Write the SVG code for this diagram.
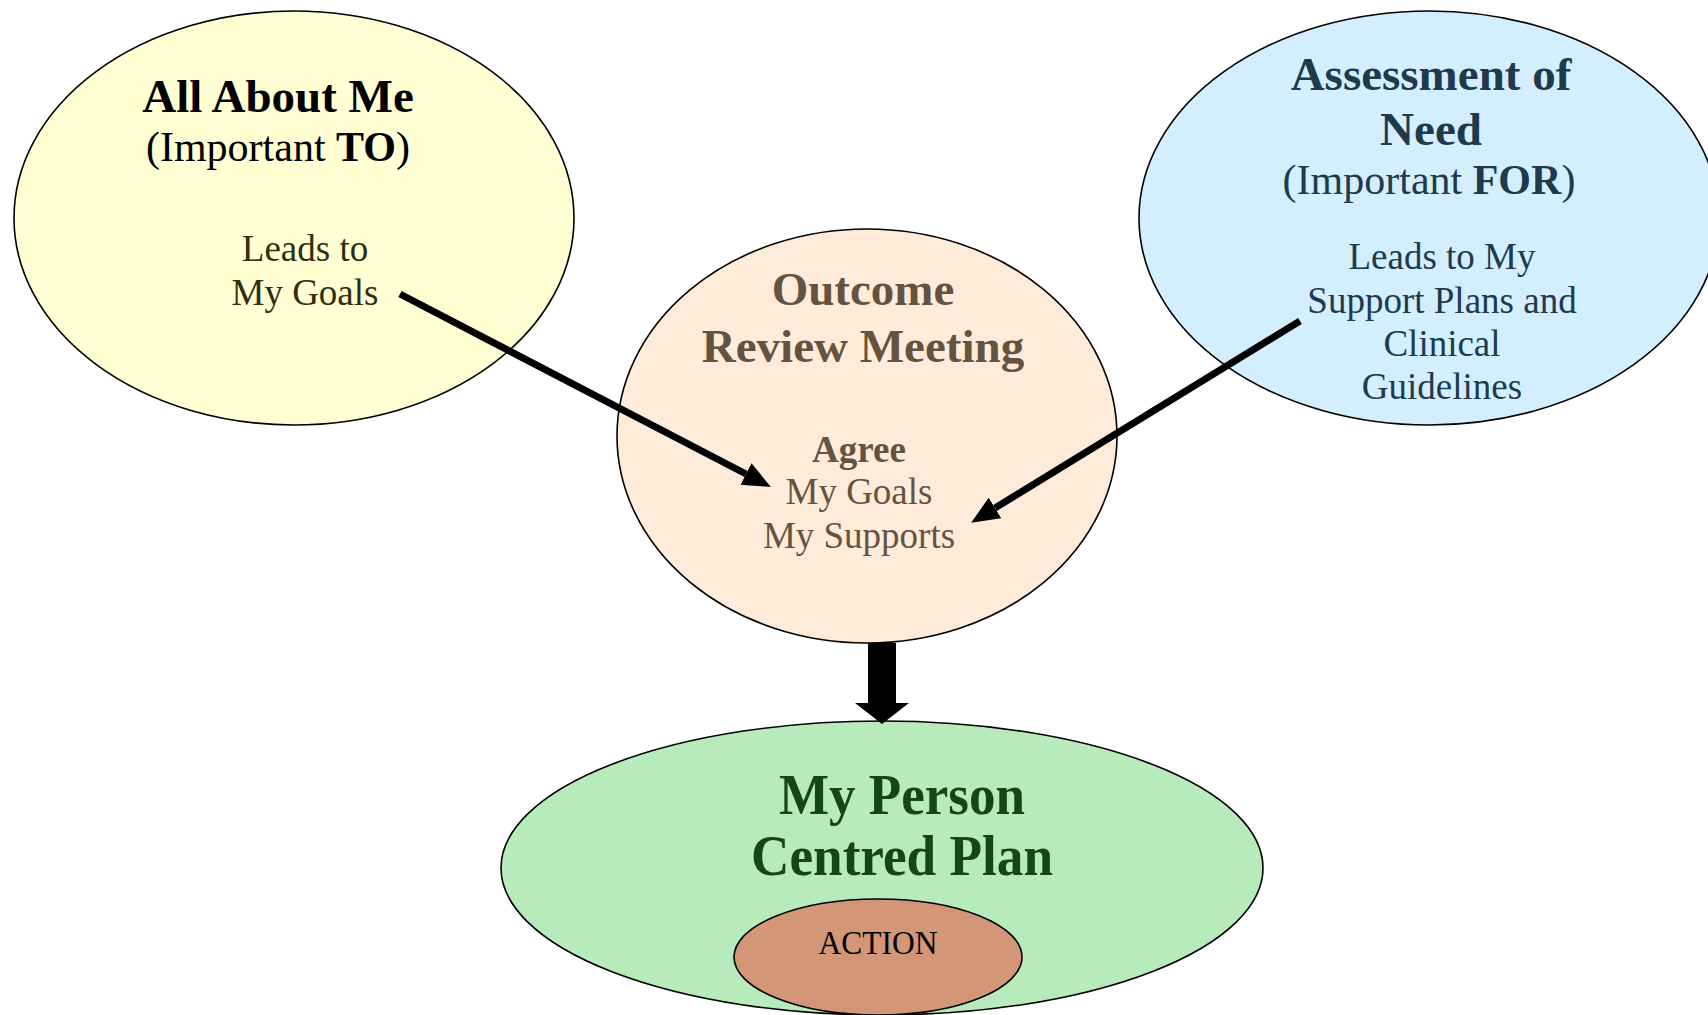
<svg xmlns="http://www.w3.org/2000/svg" width="1708" height="1015" viewBox="0 0 1708 1015">
<style>
text{font-family:"Liberation Serif","Times New Roman",serif;text-anchor:middle}
.t{font-size:47px;font-weight:bold}
.s{font-size:42px}
.b{font-size:37px}
.e{stroke:#000;stroke-width:1.6}
</style>
<defs>
<marker id="ah" markerUnits="userSpaceOnUse" markerWidth="30" markerHeight="26" refX="0" refY="12" orient="auto">
<path d="M0,0 L28,12 L0,24 z" fill="#000"/>
</marker>
</defs>
<rect width="1708" height="1015" fill="#fff"/>
<g id="all-about-me">
<ellipse class="e" cx="294" cy="218" rx="280" ry="207" fill="#ffffd3"/>
<text class="t" x="278" y="112" fill="#000">All About Me</text>
<text class="s" x="278" y="161" fill="#000">(Important <tspan font-weight="bold">TO</tspan>)</text>
<text class="b" x="305" y="261" fill="#2e2e10">Leads to</text>
<text class="b" x="305" y="305" fill="#2e2e10">My Goals</text>
</g>
<g id="assessment">
<ellipse class="e" cx="1429" cy="218" rx="290" ry="207" fill="#d3eeff"/>
<text class="t" x="1431" y="90" fill="#203a4c">Assessment of</text>
<text class="t" x="1431" y="145" fill="#203a4c">Need</text>
<text class="s" x="1429" y="194" fill="#203a4c">(Important <tspan font-weight="bold">FOR</tspan>)</text>
<text class="b" x="1442" y="269" fill="#203a4c">Leads to My</text>
<text class="b" x="1442" y="313" fill="#203a4c">Support Plans and</text>
<text class="b" x="1442" y="356" fill="#203a4c">Clinical</text>
<text class="b" x="1442" y="399" fill="#203a4c">Guidelines</text>
</g>
<g id="outcome-review">
<ellipse class="e" cx="867" cy="436" rx="250" ry="207" fill="#ffebd9"/>
<text class="t" x="863" y="305" fill="#655340">Outcome</text>
<text class="t" x="863" y="362" fill="#655340">Review Meeting</text>
<text class="b" x="859" y="462" font-weight="bold" fill="#655340">Agree</text>
<text class="b" x="859" y="504" fill="#655340">My Goals</text>
<text class="b" x="859" y="548" fill="#655340">My Supports</text>
</g>
<g id="person-centred-plan">
<ellipse class="e" cx="882" cy="868" rx="381" ry="147" fill="#b8ebbb"/>
<text x="902" y="814" font-size="56" font-weight="bold" fill="#174517" textLength="246" lengthAdjust="spacingAndGlyphs">My Person</text>
<text x="902" y="875" font-size="56" font-weight="bold" fill="#174517" textLength="302" lengthAdjust="spacingAndGlyphs">Centred Plan</text>
</g>
<g id="action">
<ellipse class="e" cx="878" cy="957" rx="144" ry="58" fill="#d39677"/>
<text x="878" y="954" font-size="34" fill="#000" textLength="119" lengthAdjust="spacingAndGlyphs">ACTION</text>
</g>
<g id="connectors">
<line x1="400" y1="294" x2="746" y2="474" stroke="#000" stroke-width="7" marker-end="url(#ah)"/>
<line x1="1300" y1="321" x2="995" y2="508" stroke="#000" stroke-width="7" marker-end="url(#ah)"/>
<path d="M868,643 L896,643 L896,703 L909,703 L882,724 L855,703 L868,703 z" fill="#000"/>
</g>
</svg>
